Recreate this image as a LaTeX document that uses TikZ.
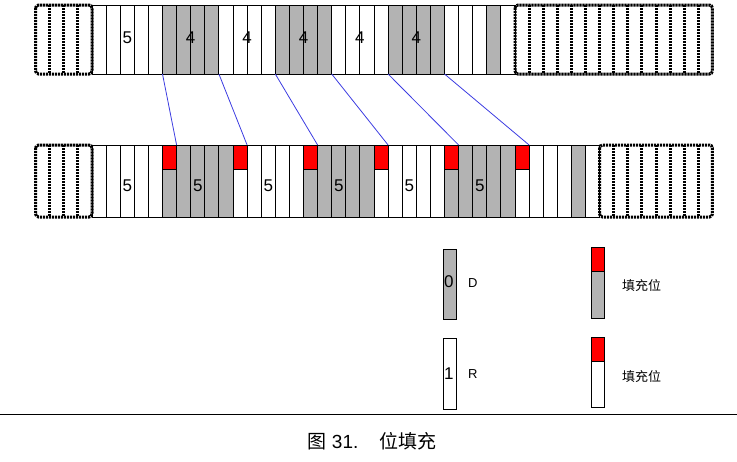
\documentclass[tikz,border=0pt]{standalone}
\usepackage{fontspec}
\setmainfont{Liberation Sans}
\newfontfamily\cjk{Noto Sans CJK SC}
\definecolor{cellgray}{RGB}{179,179,179}
\definecolor{linkblue}{RGB}{60,60,225}
\begin{document}
\begin{tikzpicture}[x=1pt,y=-1pt,
  cell/.style={draw=black,line width=1pt},
  dotline/.style={draw=black,line width=3pt,dash pattern=on 2.2pt off 0.8pt},
  dotbox/.style={dotline,rounded corners=3pt},
  link/.style={draw=linkblue,line width=0.8pt},
  bignum/.style={font=\fontsize{17}{20}\selectfont,inner sep=0pt},
  legtext/.style={font=\fontsize{13}{15}\selectfont,inner sep=0pt,anchor=west},
  cjktext/.style={font=\cjk\fontsize{13}{15}\selectfont,inner sep=0pt,anchor=west}]
\useasboundingbox (0,0) rectangle (737,461);
\def\W{14.1}
% ---------- top row ----------
\foreach \i in {0,...,29}
  \draw[cell,fill=white] ({92+\i*\W},5) rectangle ({92+(\i+1)*\W},74);
\foreach \i in {5,6,7,8,13,14,15,16,21,22,23,24,28}
  \draw[cell,fill=cellgray] ({92+\i*\W},5) rectangle ({92+(\i+1)*\W},74);
\draw[dotbox] ({92-4*\W},5) rectangle (92,74);
\foreach \k in {1,2,3} \draw[dotline] ({92-\k*\W},5) -- ({92-\k*\W},74);
\draw[dotbox] ({92+30*\W},5) rectangle ({92+44*\W},74);
\foreach \k in {31,...,43} \draw[dotline] ({92+\k*\W},5) -- ({92+\k*\W},74);
\node[bignum] (t1) at ({92+2.5*\W},38) {5};
\node[bignum] (t2) at ({92+7*\W},38) {4};
\node[bignum] (t3) at ({92+11*\W},38) {4};
\node[bignum] (t4) at ({92+15*\W},38) {4};
\node[bignum] (t5) at ({92+19*\W},38) {4};
\node[bignum] (t6) at ({92+23*\W},38) {4};
% ---------- bottom row ----------
\foreach \i in {0,...,35}
  \draw[cell,fill=white] ({92+\i*\W},145) rectangle ({92+(\i+1)*\W},217);
\foreach \i in {5,6,7,8,9,15,16,17,18,19,25,26,27,28,29,34}
  \draw[cell,fill=cellgray] ({92+\i*\W},145) rectangle ({92+(\i+1)*\W},217);
\foreach \i in {5,10,15,20,25,30}
  \draw[cell,fill=red] ({92+\i*\W},145) rectangle ({92+(\i+1)*\W},169);
\draw[dotbox] ({92-4*\W},145) rectangle (92,217);
\foreach \k in {1,2,3} \draw[dotline] ({92-\k*\W},145) -- ({92-\k*\W},217);
\draw[dotbox] ({92+36*\W},145) rectangle ({92+44*\W},217);
\foreach \k in {37,...,43} \draw[dotline] ({92+\k*\W},145) -- ({92+\k*\W},217);
\node[bignum] (b1) at ({92+2.5*\W},186) {5};
\node[bignum] (b2) at ({92+7.5*\W},186) {5};
\node[bignum] (b3) at ({92+12.5*\W},186) {5};
\node[bignum] (b4) at ({92+17.5*\W},186) {5};
\node[bignum] (b5) at ({92+22.5*\W},186) {5};
\node[bignum] (b6) at ({92+27.5*\W},186) {5};
% ---------- links ----------
\foreach \n/\a/\b in {1/5/6,2/9/11,3/13/16,4/17/21,5/21/26,6/25/31}{
  \coordinate (u\n) at ({92+\a*\W},74);
  \coordinate (v\n) at ({92+\b*\W},145);
  \draw[link] (u\n) -- (v\n);
}
% ---------- legend ----------
\draw[cell,fill=cellgray] (443,249) rectangle (456,319);
\node[bignum,anchor=west] (l0) at (444,282) {0};
\node[legtext] (lD) at (468,283) {D};
\draw[cell,fill=white] (443,338) rectangle (456,409);
\node[bignum,anchor=west] (l1) at (444,374) {1};
\node[legtext] (lR) at (468,374) {R};
\draw[cell,fill=cellgray] (591,247) rectangle (604,318);
\draw[cell,fill=red] (591,247) rectangle (604,271);
\node[cjktext] (s1) at (622,286) {填充位};
\draw[cell,fill=white] (591,337) rectangle (604,407);
\draw[cell,fill=red] (591,337) rectangle (604,361);
\node[cjktext] (s2) at (622,377) {填充位};
% ---------- caption ----------
\draw[line width=1pt] (0,414) -- (737,414);
\node[inner sep=0pt,font=\fontsize{19}{22}\selectfont] (cap) at (372,441) {{\cjk 图}~31.\hspace{1.1em}{\cjk 位填充}};
\end{tikzpicture}
\end{document}
